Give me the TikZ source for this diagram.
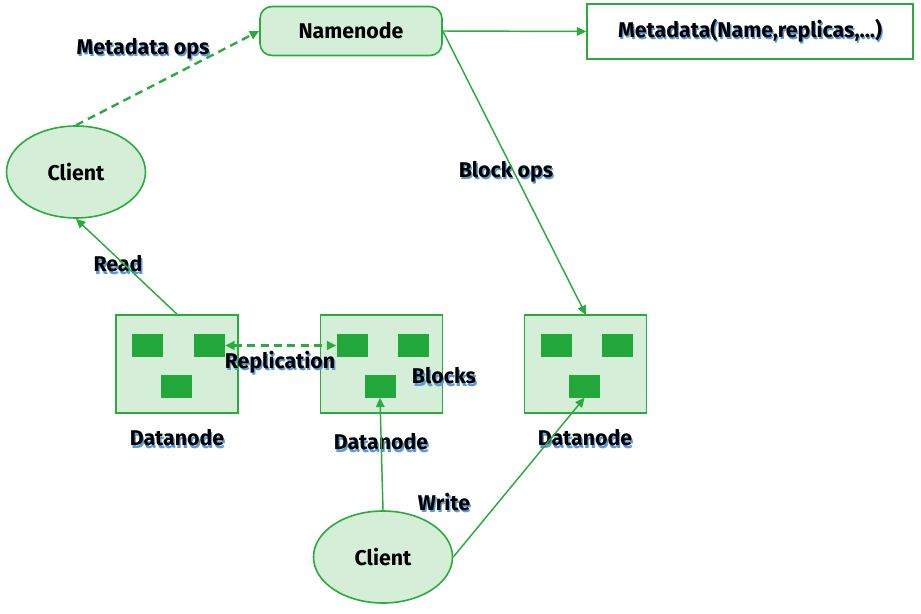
\documentclass[tikz,border=0pt]{standalone}
\usepackage{fontspec}
\setmainfont{Fira Sans}
\usetikzlibrary{arrows.meta,shapes.geometric}
\definecolor{gfill}{HTML}{D5EED7}
\definecolor{gline}{HTML}{2AAB3E}
\definecolor{gblock}{HTML}{22A83A}
\definecolor{shblue}{HTML}{5B9BD5}
\newcommand\shtxt[1]{\rlap{\raisebox{-1.8pt}{\hspace{1pt}\textcolor{shblue}{#1}}}#1}
\tikzset{
  lbl/.style={font=\bfseries\fontsize{16}{18}\selectfont, inner sep=0pt},
  nnbox/.style={draw=gline, fill=gfill, line width=1.2pt, rounded corners=9pt, minimum width=182*0.75pt, minimum height=49*0.75pt, font=\bfseries\fontsize{16}{18}\selectfont},
  mdbox/.style={draw=gline, line width=1.2pt, minimum width=326*0.75pt, minimum height=55*0.75pt, font=\bfseries\fontsize{16}{18}\selectfont},
  clientell/.style={ellipse, draw=gline, fill=gfill, line width=1.2pt, minimum width=139*0.75pt, minimum height=92*0.75pt, inner sep=0pt, font=\bfseries\fontsize{16}{18}\selectfont},
  dnbox/.style={draw=gline, fill=gfill, line width=1.2pt, minimum width=122*0.75pt, minimum height=98*0.75pt, inner sep=0pt},
  blk/.style={fill=gblock, minimum width=31*0.75pt, minimum height=23*0.75pt, inner sep=0pt},
  conn/.style={draw=gline, line width=1.1pt, -{Triangle[length=7pt,width=6.5pt]}},
  dconn/.style={draw=gline, line width=1.8pt, dash pattern=on 6pt off 4pt, -{Triangle[length=7pt,width=6.5pt]}},
}
\begin{document}
\begin{tikzpicture}[x=0.75pt,y=-0.75pt]
\useasboundingbox (0,0) rectangle (921,614);
% nodes
\node[nnbox] (nn) at (351,31) {Namenode};
\node[mdbox] (md) at (750,31.5) {\shtxt{Metadata(Name,replicas,...)}};
\node[clientell] (c1) at (76,172) {Client};
\node[clientell] (c2) at (383,557) {Client};
% datanodes
\node[dnbox] (d1) at (177,364) {};
\node[blk] (d1a) at (147.5,345.5) {};
\node[blk] (d1b) at (209.5,345.5) {};
\node[blk] (d1c) at (176,386) {};
\node[dnbox] (d2) at (381.5,364) {};
\node[blk] (d2a) at (352,345.5) {};
\node[blk] (d2b) at (413,345.5) {};
\node[blk] (d2c) at (380,386) {};
\node[dnbox] (d3) at (585.5,364) {};
\node[blk] (d3a) at (556,345.5) {};
\node[blk] (d3b) at (617.5,345.5) {};
\node[blk] (d3c) at (584.5,386) {};
% labels
\node[lbl] (lmo) at (143,50) {\shtxt{Metadata ops}};
\node[lbl] (lbo) at (506,173) {\shtxt{Block ops}};
\node[lbl] (lrd) at (118,265) {\shtxt{Read}};
\node[lbl] (lrp) at (280,363) {\shtxt{Replication}};
\node[lbl] (lbl) at (444,377) {\shtxt{Blocks}};
\node[lbl] (ld1) at (177,439) {\shtxt{Datanode}};
\node[lbl] (ld2) at (381,443) {\shtxt{Datanode}};
\node[lbl] (ld3) at (585,439) {\shtxt{Datanode}};
\node[lbl] (lwr) at (444,503) {\shtxt{Write}};
% connectors
\draw[conn] (nn.east) -- (md.west);
\draw[dconn] (c1.north) -- (nn.west);
\draw[conn] (nn.east) -- (586,315);
\draw[conn] (d1.north) -- (c1.south);
\draw[draw=gline, line width=1.8pt, dash pattern=on 6pt off 4pt, {Triangle[length=7pt,width=6.5pt]}-{Triangle[length=7pt,width=6.5pt]}] (d1b.east) -- (d2a.west);
\draw[conn] (c2.north) -- (d2c.south);
\draw[conn] (c2.east) -- (d3c.south);
\end{tikzpicture}
\end{document}
